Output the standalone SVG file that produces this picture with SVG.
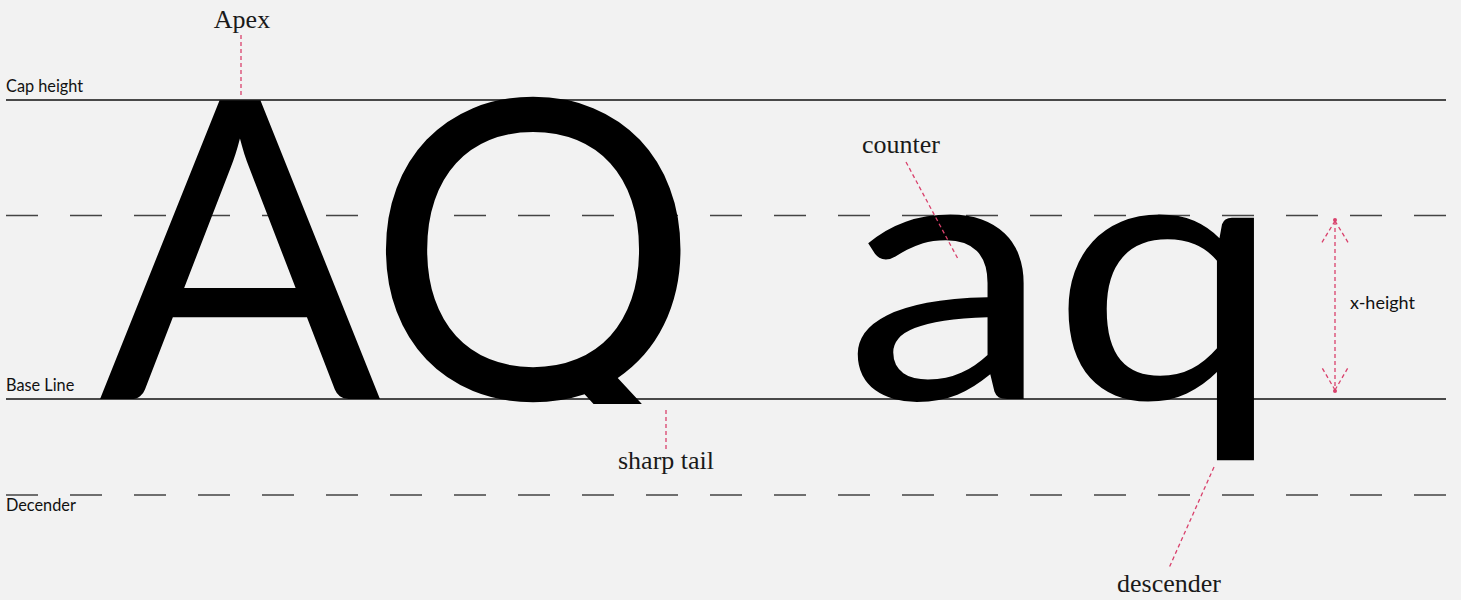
<svg xmlns="http://www.w3.org/2000/svg" width="1461" height="600" viewBox="0 0 1461 600">
<style>
.solid{stroke:#111;stroke-width:1.5;fill:none}
.dash{stroke:#444;stroke-width:1.6;stroke-dasharray:32 32;fill:none}
.lead{stroke:#d9416c;stroke-width:1.3;stroke-dasharray:4 3;fill:none}
.sans{font-family:Lato,"Liberation Sans",sans-serif;font-size:16.3px;fill:#111}
.serif{font-family:"Liberation Serif",serif;font-size:26px;fill:#1a1a1a;text-anchor:middle}
.glyph{font-family:Lato,"Liberation Sans",sans-serif;fill:#000;text-anchor:middle}
</style>
<defs>
<clipPath id="capclip"><rect x="0" y="0" width="1461" height="404"/></clipPath>
</defs>
<rect width="1461" height="600" fill="#f2f2f2"/>
<g id="guides">
<line class="dash" x1="6" y1="215.5" x2="1446" y2="215.5"/>
<line class="dash" x1="6" y1="495" x2="1446" y2="495"/>
<line class="solid" x1="6" y1="100" x2="1446" y2="100"/>
<line class="solid" x1="6" y1="399" x2="1446" y2="399"/>
<text class="sans" x="6" y="92">Cap height</text>
<text class="sans" x="6" y="391">Base Line</text>
<text class="sans" x="6" y="511">Decender</text>
</g>
<g id="letters">
<text class="glyph" font-size="417" x="240 533" y="399" clip-path="url(#capclip)">AQ</text>
<text class="glyph" font-size="358" transform="translate(0,399) scale(1.16,1)" x="816.8 1006" y="0">aq</text>
</g>
<g id="connectors">
<line class="lead" x1="241" y1="35" x2="241" y2="97"/>
<line class="lead" x1="906" y1="162" x2="958" y2="259"/>
<line class="lead" x1="666" y1="410" x2="666" y2="450"/>
<line class="lead" x1="1214" y1="467" x2="1169" y2="568"/>
<g id="x-height-arrow">
<line class="lead" x1="1335" y1="221" x2="1335" y2="390"/>
<line class="lead" x1="1335" y1="221" x2="1321" y2="244"/>
<line class="lead" x1="1335" y1="221" x2="1349" y2="244"/>
<line class="lead" x1="1335" y1="390" x2="1321" y2="366"/>
<line class="lead" x1="1335" y1="390" x2="1349" y2="366"/>
<circle cx="1335" cy="220" r="2" fill="#d9416c"/>
<circle cx="1335" cy="391" r="2" fill="#d9416c"/>
</g>
</g>
<g id="labels">
<text class="serif" x="242" y="28">Apex</text>
<text class="serif" x="901" y="152.5">counter</text>
<text class="serif" x="666" y="469">sharp tail</text>
<text class="serif" x="1169" y="592">descender</text>
<text class="sans" x="1350" y="309" style="font-size:18px">x-height</text>
</g>
</svg>
